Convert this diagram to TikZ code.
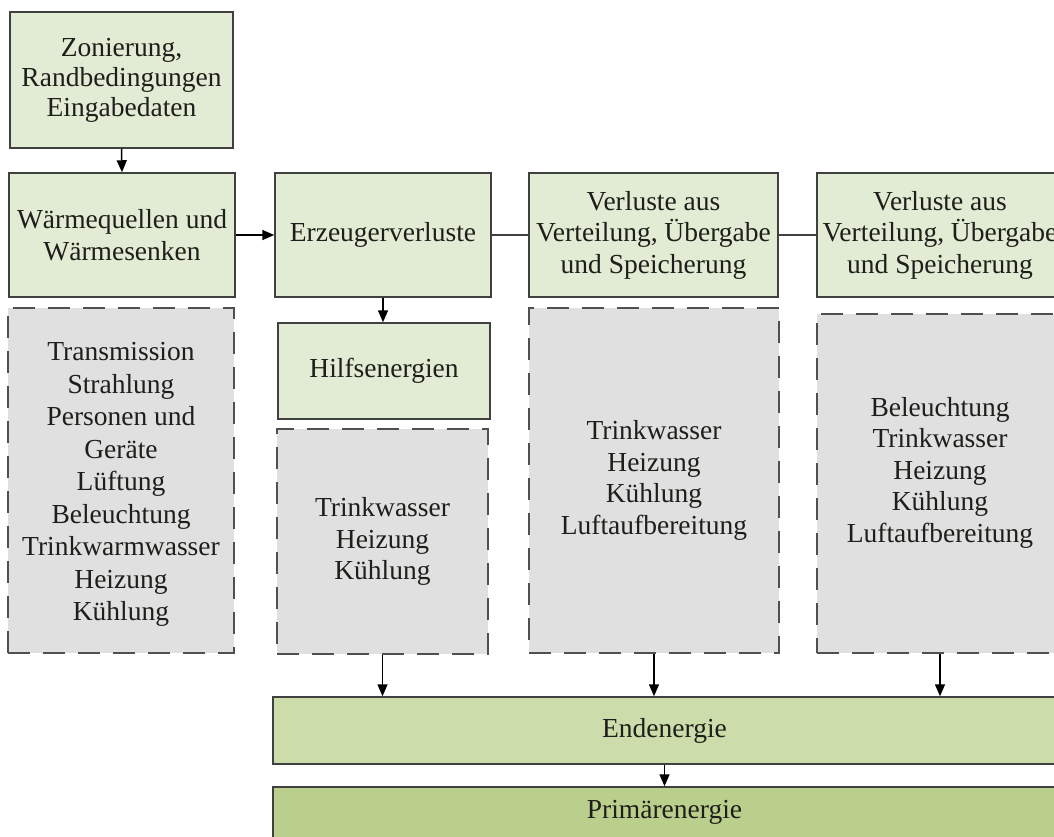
\documentclass[tikz,border=0pt]{standalone}
\usepackage{fontspec}
\setmainfont{Liberation Serif}
\usetikzlibrary{arrows.meta}
\definecolor{boxgreen}{HTML}{E2EBD3}
\definecolor{endgreen}{HTML}{CCDCAA}
\definecolor{primgreen}{HTML}{BACF8C}
\definecolor{boxgray}{HTML}{E0E0E0}
\definecolor{edgecol}{HTML}{404040}
\definecolor{dashcol}{HTML}{505050}
\definecolor{txt}{HTML}{1E1E1A}
\begin{document}
\begin{tikzpicture}[x=1pt,y=-1pt,
  font=\fontsize{27.5}{31.5}\selectfont,
  greenbox/.style={draw=edgecol, line width=1.5pt, fill=boxgreen, text=txt, align=center, inner sep=0pt},
  graybox/.style={draw=dashcol, line width=2pt, dash pattern=on 22pt off 13pt, fill=boxgray, text=txt, align=center, inner sep=0pt},
  arr/.style={-{Triangle[length=12pt,width=10pt]}, line width=1.5pt, draw=black},
  plainline/.style={line width=1.5pt, draw=edgecol}]
\useasboundingbox (0,0) rectangle (1054,836);
\fill[white] (0,0) rectangle (1054,836);
\clip (0,0) rectangle (1054,836);

\node[greenbox, minimum width=223pt, minimum height=136pt, font=\fontsize{27.5}{30}\selectfont] (zon) at (121.5,80)
  {Zonierung,\\Randbedingungen\\Eingabedaten};
\node[greenbox, minimum width=226pt, minimum height=124pt] (wq) at (122,235)
  {Wärmequellen und\\Wärmesenken};
\node[graybox, minimum width=226pt, minimum height=345pt,
  label={[text=txt, align=center, yshift=-4pt, font=\fontsize{27.5}{32.5}\selectfont]center:Transmission\\Strahlung\\Personen und\\Geräte\\Lüftung\\Beleuchtung\\Trinkwarmwasser\\Heizung\\Kühlung}] (gl) at (121,480.5) {};

\node[greenbox, minimum width=216pt, minimum height=124pt] (erz) at (383,235)
  {Erzeugerverluste};
\node[greenbox, minimum width=212pt, minimum height=96pt] (hilf) at (384,371)
  {Hilfsenergien};
\node[graybox, minimum width=211pt, minimum height=225pt] (gh) at (382.5,541.5)
  {Trinkwasser\\Heizung\\Kühlung};

\node[greenbox, minimum width=249pt, minimum height=124pt] (v1) at (653.5,235)
  {Verluste aus\\Verteilung, Übergabe\\und Speicherung};
\node[graybox, minimum width=250pt, minimum height=345pt] (g2) at (654,480.5)
  {Trinkwasser\\Heizung\\Kühlung\\Luftaufbereitung};

\node[greenbox, minimum width=246pt, minimum height=124pt] (v2) at (940,235)
  {Verluste aus\\Verteilung, Übergabe\\und Speicherung};
\node[graybox, minimum width=246pt, minimum height=339pt,
  label={[text=txt, align=center, yshift=11pt]center:Beleuchtung\\Trinkwasser\\Heizung\\Kühlung\\Luftaufbereitung}] (g3) at (940,483.5) {};

\node[greenbox, fill=endgreen, minimum width=783pt, minimum height=67pt] (end) at (664.5,730.5)
  {Endenergie};
\node[greenbox, fill=primgreen, minimum width=783pt, minimum height=51pt] (prim) at (664.5,812.5)
  {Primärenergie};

\draw[arr] (zon.south) -- (wq.north);
\draw[arr] (wq.east) -- (erz.west);
\draw[plainline] (erz.east) -- (v1.west);
\draw[plainline] (v1.east) -- (v2.west);
\draw[arr] (erz.south) -- (erz.south |- hilf.north);
\draw[arr] (gh.south) -- (gh.south |- end.north);
\draw[arr] (g2.south) -- (g2.south |- end.north);
\draw[arr] (g3.south) -- (g3.south |- end.north);
\draw[arr] (end.south) -- (prim.north);
\end{tikzpicture}
\end{document}
